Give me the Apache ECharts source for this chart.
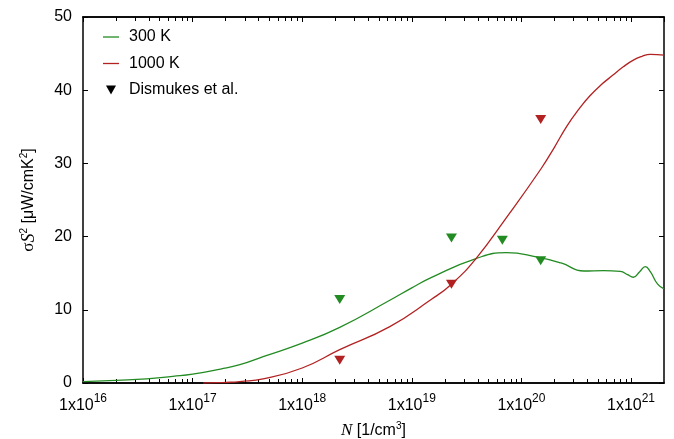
<!DOCTYPE html>
<html>
<head>
    <meta charset="utf-8">
    <title>sigma S^2 vs N</title>
    <script src="https://cdn.jsdelivr.net/npm/echarts@6/dist/echarts.min.js"></script>
</head>
<body style="margin:0">
    <div id="chart" style="width: 674px;height: 439px;"></div>
</body>

<script>
    // carrier concentration N [1/cm^3] and power factor [uW/cmK^2]
    var n300 = [1e16, 2e16, 3.8e16, 6.6e16, 1e17, 1.8e17, 2.7e17, 4.4e17, 1e18, 2.2e18, 6.3e18, 1e19, 1.5e19,
        3.85e19, 7.3e19, 1.4e20, 2.3e20, 3.7e20, 5.6e20, 8e20, 9.3e20, 1.05e21, 1.2e21, 1.35e21, 1.5e21, 1.75e21, 2e21];
    var pf300 = [0.18, 0.36, 0.55, 0.9, 1.2, 1.9, 2.5, 3.6, 5.45, 7.6, 11.3, 13.0, 14.4,
        17.0, 17.8, 17.2, 16.4, 15.3, 15.35, 15.25, 14.8, 14.45, 15.2, 15.9, 15.2, 13.5, 12.85];

    var n1000 = [1.25e17, 1.7e17, 2.2e17, 2.7e17, 4.4e17, 1e18, 2.2e18, 6.3e18, 1.5e19, 2.3e19,
        3.85e19, 7.3e19, 1.5e20, 2e20, 2.6e20, 3.3e20, 4.2e20, 5.4e20, 6.9e20, 8.5e20, 1.05e21, 1.25e21, 1.5e21, 2e21];
    var pf1000 = [0, 0.05, 0.1, 0.2, 0.55, 2.05, 4.55, 7.7, 11.4, 13.5,
        17.0, 22.6, 29.2, 32.2, 35.1, 37.3, 39.2, 40.8, 42.1, 43.2, 44.1, 44.6, 44.9, 44.8];

    // Dismukes et al. measurements
    var expN300 = [2.2e18, 2.3e19, 6.7e19, 1.5e20];
    var expPf300 = [11.4, 19.8, 19.5, 16.7];
    var expN1000 = [2.2e18, 2.3e19, 1.5e20];
    var expPf1000 = [3.1, 13.5, 36.0];

    var xMin = 1e16, xMax = 2e21;
    var yTicks = [0, 10, 20, 30, 40, 50];

    var green = '#228b22', red = '#b22222';
    var font = 'Liberation Sans';

    function pairs(xs, ys) {
        return xs.map(function (x, i) { return [x, ys[i]]; });
    }

    // minor ticks (2..9 in each decade), placed on a helper value axis in log10 units
    var minorTicks = [];
    for (var d = 16; d <= 21; d++) {
        for (var k = 2; k <= 9; k++) {
            if (k * Math.pow(10, d) < xMax) minorTicks.push(d + Math.log10(k));
        }
    }

    var axisLineStyle = { lineStyle: { color: '#000', width: 1.5 } };

    function xAxisDef(pos, withLabels) {
        var ax = {
            type: 'log',
            logBase: 10,
            min: xMin,
            max: xMax,
            interval: 1,
            position: pos,
            axisLine: axisLineStyle,
            axisTick: { inside: true, length: 5, lineStyle: { color: '#000' } },
            splitLine: { show: false },
            axisLabel: { show: false }
        };
        if (withLabels) {
            ax.axisLabel = {
                show: true,
                showMaxLabel: false,
                margin: 10,
                formatter: function (val) {
                    return '{b|1x10}{s|' + Math.round(Math.log10(val)) + '}';
                },
                rich: {
                    b: { fontSize: 16, fontFamily: font, color: '#000', lineHeight: 20, padding: [6, 0, 0, 0] },
                    s: { fontSize: 12, fontFamily: font, color: '#000', verticalAlign: 'top', lineHeight: 20 }
                }
            };
            ax.name = '{i|N}{n| [1/cm}{s|3}{n|]}';
            ax.nameLocation = 'middle';
            ax.nameGap = 38;
            ax.nameTextStyle = {
                rich: {
                    i: { fontSize: 17, fontFamily: 'Liberation Serif', fontStyle: 'italic', color: '#000', lineHeight: 20 },
                    n: { fontSize: 16, fontFamily: font, color: '#000', lineHeight: 20 },
                    s: { fontSize: 10, fontFamily: font, color: '#000', verticalAlign: 'top', lineHeight: 20 }
                }
            };
        }
        return ax;
    }

    function minorAxisDef(pos) {
        return {
            type: 'value',
            min: Math.log10(xMin),
            max: Math.log10(xMax),
            position: pos,
            axisLine: axisLineStyle,
            axisTick: { show: true, inside: true, length: 4, customValues: minorTicks, lineStyle: { color: '#000' } },
            splitLine: { show: false },
            axisLabel: { show: false }
        };
    }

    function yAxisDef(pos, withLabels) {
        var ax = {
            type: 'value',
            min: yTicks[0],
            max: yTicks[yTicks.length - 1],
            interval: 10,
            position: pos,
            axisLine: axisLineStyle,
            axisTick: { inside: true, length: 5, lineStyle: { color: '#000' } },
            splitLine: { show: false },
            axisLabel: { show: withLabels, fontSize: 16, fontFamily: font, color: '#000', margin: 11 }
        };
        if (withLabels) {
            ax.name = '{g|σ}{i|S}{s|2}{n| [μW/cmK}{s|2}{n|]}';
            ax.nameLocation = 'middle';
            ax.nameGap = 44;
            ax.nameTextStyle = {
                rich: {
                    g: { fontSize: 17, fontFamily: 'Liberation Serif', color: '#000', lineHeight: 20 },
                    i: { fontSize: 18, fontFamily: 'Liberation Serif', fontStyle: 'italic', color: '#000', lineHeight: 20 },
                    n: { fontSize: 16, fontFamily: font, color: '#000', lineHeight: 20 },
                    s: { fontSize: 10, fontFamily: font, color: '#000', verticalAlign: 'top', lineHeight: 20 }
                }
            };
        }
        return ax;
    }

    var lineIcon = 'path://M0,0L16,0L16,1.3L0,1.3Z';

    var option = {
        animation: false,
        backgroundColor: '#fff',
        grid: { left: 83, right: 10, top: 17, bottom: 56, outerBoundsMode: 'none' },
        legend: {
            orient: 'vertical',
            left: 98,
            top: 23,
            itemWidth: 16,
            itemHeight: 9,
            itemGap: 8.5,
            textStyle: { fontSize: 16, fontFamily: font, color: '#000', lineHeight: 18, padding: [0, 0, 0, 5] },
            data: [
                { name: '300 K', icon: lineIcon },
                { name: '1000 K', icon: lineIcon },
                { name: 'Dismukes et al.', icon: 'path://M0,0L10,0L5,9Z' }
            ]
        },
        xAxis: [
            xAxisDef('bottom', true),
            minorAxisDef('bottom'),
            xAxisDef('top', false),
            minorAxisDef('top')
        ],
        yAxis: [yAxisDef('left', true), yAxisDef('right', false)],
        series: [
            {
                name: '300 K', type: 'line', data: pairs(n300, pf300),
                smooth: 0.5, symbol: 'none', color: green,
                lineStyle: { width: 1.3, color: green }
            },
            {
                name: '1000 K', type: 'line', data: pairs(n1000, pf1000),
                smooth: 0.5, symbol: 'none', color: red,
                lineStyle: { width: 1.3, color: red }
            },
            {
                name: 'Dismukes et al.', type: 'scatter', data: [],
                symbol: 'triangle', symbolRotate: 180, itemStyle: { color: '#000', opacity: 1 }
            },
            {
                name: 'exp300', type: 'scatter', data: pairs(expN300, expPf300),
                symbol: 'triangle', symbolRotate: 180, symbolSize: [11, 9], itemStyle: { color: green, opacity: 1 }
            },
            {
                name: 'exp1000', type: 'scatter', data: pairs(expN1000, expPf1000),
                symbol: 'triangle', symbolRotate: 180, symbolSize: [11, 9], itemStyle: { color: red, opacity: 1 }
            }
        ]
    };

    var chart = echarts.init(document.getElementById('chart'));
    chart.setOption(option);
</script>
</html>
